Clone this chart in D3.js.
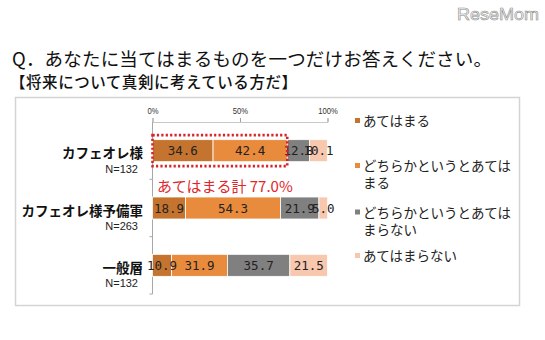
<!DOCTYPE html>
<html>
<head>
<meta charset="utf-8">
<script src="https://cdn.jsdelivr.net/npm/d3@7"></script>
<style>
  html, body { margin: 0; padding: 0; background: #fff; }
  svg { display: block; }
</style>
</head>
<body>
<svg id="chart" width="545" height="340"></svg>
<script>
// Survey groups (top to bottom) and their sample sizes
const categories = ["カフェオレ様", "カフェオレ様予備軍", "一般層"];
const sampleSizes = ["N=132", "N=263", "N=132"];

// Answer options, in stacking order
const seriesNames = [
  "あてはまる",
  "どちらかというとあてはまる",
  "どちらかというとあてはまらない",
  "あてはまらない"
];
// Legend text split into display lines
const legendLines = [
  ["あてはまる"],
  ["どちらかというとあては", "まる"],
  ["どちらかというとあては", "まらない"],
  ["あてはまらない"]
];

// Percentages per option, one value per group
const applies         = [34.6, 18.9, 10.9];
const somewhatApplies = [42.4, 54.3, 31.9];
const somewhatNot     = [12.8, 21.9, 35.7];
const notApplies      = [10.1, 5.0, 21.5];

const tickValues = [0, 50, 100];
const tickLabels = ["0%", "50%", "100%"];

const colors = ["#c4742f", "#e98b3c", "#808080", "#f7c7ae"];

const svg = d3.select("#chart");
const jp = "'Noto Sans CJK JP', 'Noto Sans', sans-serif";
const mono = "'DejaVu Sans Mono', 'Liberation Mono', monospace";

// Header
svg.append("text")
  .attr("x", 12).attr("y", 66)
  .attr("font-family", jp).attr("font-size", 18.5)
  .attr("fill", "#111")
  .attr("textLength", 480).attr("lengthAdjust", "spacing")
  .text("Q．あなたに当てはまるものを一つだけお答えください。");

svg.append("text")
  .attr("x", 10).attr("y", 88)
  .attr("font-family", jp).attr("font-size", 15.5).attr("font-weight", 500)
  .attr("fill", "#111")
  .attr("textLength", 287).attr("lengthAdjust", "spacing")
  .text("【将来について真剣に考えている方だ】");

// Logo mark
svg.append("text")
  .attr("x", 539).attr("y", 20)
  .attr("text-anchor", "end")
  .attr("font-family", "'Liberation Sans', Arial, sans-serif")
  .attr("font-size", 17)
  .attr("fill", "#fafafa").attr("stroke", "#8a8a8a").attr("stroke-width", 0.6)
  .attr("textLength", 82).attr("lengthAdjust", "spacingAndGlyphs")
  .text("ReseMom");

// Panel frame
svg.append("rect")
  .attr("x", 15.5).attr("y", 97.5)
  .attr("width", 504).attr("height", 208)
  .attr("fill", "none").attr("stroke", "#d4d4d4").attr("stroke-width", 1.5);

// Stacked layout
const rows = categories.map((c, i) => ({
  category: c,
  n: sampleSizes[i],
  values: [applies[i], somewhatApplies[i], somewhatNot[i], notApplies[i]]
}));

const x = d3.scaleLinear().domain([0, 100]).range([152.5, 327.5]);
const y = d3.scaleBand().domain(categories).range([122, 294]).paddingInner(0).paddingOuter(0);
const barH = 22;

// Top percentage axis
const xAxis = d3.axisTop(x).tickValues(tickValues)
  .tickFormat((d, i) => tickLabels[i]).tickSize(4).tickPadding(4);
const gx = svg.append("g").attr("transform", "translate(0,122)").call(xAxis);
gx.select(".domain").attr("stroke", "#c8c8c8");
gx.selectAll(".tick line").attr("stroke", "#a0a0a0");
gx.selectAll(".tick text")
  .attr("font-family", "'Liberation Sans Narrow', 'Liberation Sans', sans-serif")
  .attr("font-size", 9).attr("fill", "#333")
  .attr("transform", "scale(0.85,1)")
  .attr("x", function(d) { return 0; });

// Left category axis line with boundary ticks
const gy = svg.append("g");
gy.append("line")
  .attr("x1", x(0)).attr("x2", x(0))
  .attr("y1", 122).attr("y2", 294)
  .attr("stroke", "#a8a8a8");
categories.forEach(c => {
  const yb = y(c) + y.bandwidth();
  gy.append("line")
    .attr("x1", x(0) - 3).attr("x2", x(0))
    .attr("y1", yb).attr("y2", yb)
    .attr("stroke", "#a8a8a8");
});

// Category labels
rows.forEach(r => {
  const cy = y(r.category) + y.bandwidth() / 2;
  svg.append("text")
    .attr("x", 143).attr("y", cy + 7.5)
    .attr("text-anchor", "end")
    .attr("font-family", jp).attr("font-size", 13.5).attr("font-weight", 700)
    .attr("fill", "#111")
    .text(r.category);
  svg.append("text")
    .attr("x", 138).attr("y", cy + 22)
    .attr("text-anchor", "end")
    .attr("font-family", "'Liberation Sans Narrow', 'Liberation Sans', sans-serif")
    .attr("font-size", 11).attr("fill", "#222")
    .text(r.n);
});

// Stacked bars
const stackData = rows.map(r => {
  let acc = 0;
  return r.values.map((v, k) => {
    const seg = { category: r.category, k, v, x0: acc, x1: acc + v };
    acc += v;
    return seg;
  });
});

const gBars = svg.append("g");
stackData.forEach(segs => {
  const g = gBars.append("g");
  g.selectAll("rect").data(segs).join("rect")
    .attr("x", d => x(d.x0))
    .attr("width", d => x(d.x1) - x(d.x0))
    .attr("y", d => y(d.category) + y.bandwidth() / 2 - barH / 2)
    .attr("height", barH)
    .attr("fill", d => colors[d.k])
    .attr("stroke", "#fff").attr("stroke-width", 0.8);
  g.selectAll("text").data(segs).join("text")
    .attr("x", d => (x(d.x0) + x(d.x1)) / 2)
    .attr("y", d => y(d.category) + y.bandwidth() / 2 + 4.5)
    .attr("text-anchor", "middle")
    .attr("font-family", mono).attr("font-size", 12.5)
    .attr("fill", "#222")
    .text(d => d.v.toFixed(1));
});

// Highlight the combined "applies" share of the first group
const first = rows[0];
const combined = first.values[0] + first.values[1];
const cy0 = y(first.category) + y.bandwidth() / 2;
svg.append("rect")
  .attr("x", x(0)).attr("y", cy0 - 15.5)
  .attr("width", x(combined) - x(0)).attr("height", 31)
  .attr("fill", "none").attr("stroke", "#d8232a")
  .attr("stroke-width", 2.6).attr("stroke-dasharray", "2.2,2.2");

svg.append("text")
  .attr("x", 157).attr("y", cy0 + 41)
  .attr("font-family", jp).attr("font-size", 15)
  .attr("fill", "#e0262d")
  .text("あてはまる計 " + combined.toFixed(1) + "%");

// Legend
const legendY = [121, 166, 212.5, 256];
const gl = svg.append("g");
legendLines.forEach((lines, k) => {
  gl.append("rect")
    .attr("x", 355).attr("y", legendY[k] - 3)
    .attr("width", 5).attr("height", 5)
    .attr("fill", colors[k]);
  lines.forEach((t, j) => {
    gl.append("text")
      .attr("x", 363).attr("y", legendY[k] + 5 + j * 17)
      .attr("font-family", jp).attr("font-size", 13.5)
      .attr("fill", "#222")
      .text(t);
  });
});
</script>
</body>
</html>
